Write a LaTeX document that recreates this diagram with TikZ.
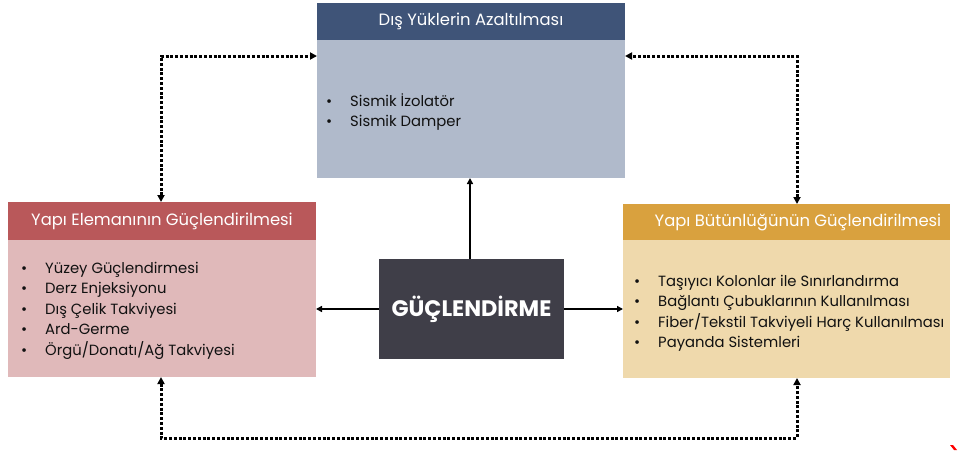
\documentclass[tikz,border=0pt]{standalone}
\usepackage{fontspec}
\setmainfont{Poppins}
\usetikzlibrary{arrows.meta}
\definecolor{topHead}{HTML}{3F5478}
\definecolor{topBody}{HTML}{B0BACB}
\definecolor{leftHead}{HTML}{B9585A}
\definecolor{leftBody}{HTML}{E0B9BA}
\definecolor{rightHead}{HTML}{D9A13E}
\definecolor{rightBody}{HTML}{EFD9AC}
\definecolor{centerFill}{HTML}{3F3E48}
\definecolor{txt}{HTML}{111111}
\tikzset{
  bodybox/.style={anchor=north west, inner sep=0pt, outer sep=0pt},
  headbox/.style={anchor=north west, inner sep=0pt, outer sep=0pt},
  headtext/.style={text=white, font=\fontsize{16.4}{19}\selectfont, inner sep=0pt},
  listtext/.style={anchor=north west, text=txt, align=left, inner sep=0pt, font=\fontsize{14.8}{20.4}\selectfont},
  solidarrow/.style={line width=1.5pt, -{Triangle[length=6pt,width=6pt]}},
  dotarrow/.style={line width=3pt, dash pattern=on 3pt off 1.8pt, {Triangle[length=7pt,width=7pt]}-{Triangle[length=7pt,width=7pt]}}
}
\newcommand{\bul}{\makebox[24pt][l]{\textbullet}}
\begin{document}
\begin{tikzpicture}[x=1pt,y=-1pt]
\useasboundingbox (0,0) rectangle (963,450);
% top box
\node[bodybox, fill=topBody, minimum width=308pt, minimum height=175pt] (top) at (317,3) {};
\node[headbox, fill=topHead, minimum width=308pt, minimum height=37pt] (tophead) at (317,3) {};
\node[headtext] (toptitle) at (471,21.5) {Dış Yüklerin Azaltılması};
\node[listtext] (toplist) at (326,93) {\bul Sismik İzolatör\\\bul Sismik Damper};
% left box
\node[bodybox, fill=leftBody, minimum width=308pt, minimum height=175pt] (left) at (8,202) {};
\node[headbox, fill=leftHead, minimum width=308pt, minimum height=38pt] (lefthead) at (8,202) {};
\node[headtext] (lefttitle) at (162,221) {Yapı Elemanının Güçlendirilmesi};
\node[listtext] (leftlist) at (21,262) {\bul Yüzey Güçlendirmesi\\\bul Derz Enjeksiyonu\\\bul Dış Çelik Takviyesi\\\bul Ard-Germe\\\bul Örgü/Donatı/Ağ Takviyesi};
% right box
\node[bodybox, fill=rightBody, minimum width=327pt, minimum height=174pt] (right) at (623,204) {};
\node[headbox, fill=rightHead, minimum width=327pt, minimum height=36pt] (righthead) at (623,204) {};
\node[headtext] (righttitle) at (798,222) {Yapı Bütünlüğünün Güçlendirilmesi};
\node[listtext] (rightlist) at (634,275) {\bul Taşıyıcı Kolonlar ile Sınırlandırma\\\bul Bağlantı Çubuklarının Kullanılması\\\bul Fiber/Tekstil Takviyeli Harç Kullanılması\\\bul Payanda Sistemleri};
% center
\node[anchor=north west, fill=centerFill, minimum width=185pt, minimum height=100pt, inner sep=0pt, outer sep=0pt] (center) at (379,259) {};
\node[text=white, font=\fontsize{22.4}{26}\selectfont\bfseries, inner sep=0pt] (centertext) at (center.center) {GÜÇLENDİRME};
% solid arrows
\draw[solidarrow] (center.north -| 470,0) -- (470,0 |- top.south);
\draw[solidarrow] (center.west |- 0,309) -- (left.east |- 0,309);
\draw[solidarrow] (center.east |- 0,309) -- (right.west |- 0,309);
% dotted connectors
\coordinate (tl) at (161,56);
\coordinate (tr) at (797,56);
\coordinate (bl) at (161,438);
\coordinate (br) at (797,438);
\draw[dotarrow] (left.north -| tl) -- (tl) -- (top.west |- tl);
\draw[dotarrow] (right.north -| tr) -- (tr) -- (top.east |- tr);
\draw[dotarrow] (left.south -| bl) -- (bl) -- (br) -- (right.south -| br);
% small red mark
\fill[red] (950,445) -- (953,445) -- (957,450) -- (954,450) -- cycle;
\end{tikzpicture}
\end{document}
